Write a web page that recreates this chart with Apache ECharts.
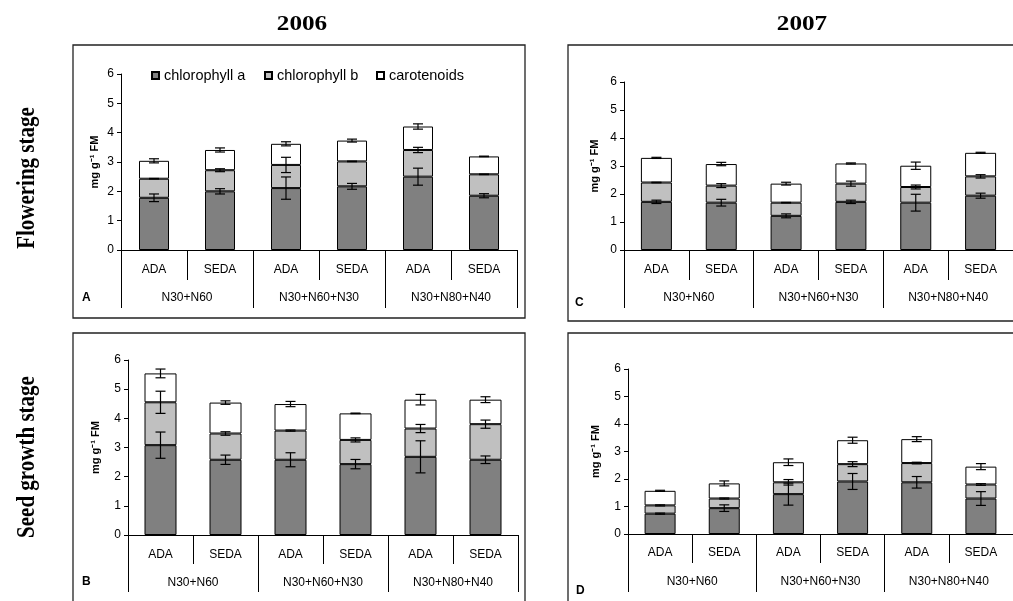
<!DOCTYPE html>
<html><head><meta charset="utf-8">
<script src="https://cdn.jsdelivr.net/npm/echarts@6/dist/echarts.min.js"></script>
<style>html,body{margin:0;padding:0;background:#fff}#c{width:1013px;height:601px}</style>
</head><body><div id="c"></div>
<script>
// ---- data ----
const categories = ['ADA', 'SEDA', 'ADA', 'SEDA', 'ADA', 'SEDA'];
const groups = ['N30+N60', 'N30+N60+N30', 'N30+N80+N40'];
const seriesNames = ['chlorophyll a', 'chlorophyll b', 'carotenoids'];
const yTicks = [0, 1, 2, 3, 4, 5, 6];

// A: 2006 flowering
const A_chlA = [1.78, 2.00, 2.11, 2.17, 2.50, 1.85];
const A_chlB = [0.65, 0.72, 0.79, 0.85, 0.91, 0.73];
const A_car  = [0.61, 0.69, 0.72, 0.71, 0.80, 0.61];
const A_errA = [0.13, 0.09, 0.38, 0.10, 0.29, 0.07];
const A_errB = [0.01, 0.05, 0.26, 0.01, 0.09, 0.01];
const A_errC = [0.07, 0.07, 0.07, 0.05, 0.09, 0.01];
// B: 2006 seed growth
const B_chlA = [3.08, 2.58, 2.58, 2.43, 2.68, 2.58];
const B_chlB = [1.47, 0.90, 1.00, 0.83, 0.97, 1.22];
const B_car  = [0.99, 1.06, 0.91, 0.91, 0.99, 0.84];
const B_errA = [0.45, 0.16, 0.24, 0.16, 0.55, 0.13];
const B_errB = [0.38, 0.06, 0.02, 0.07, 0.14, 0.14];
const B_errC = [0.15, 0.06, 0.09, 0.01, 0.18, 0.10];
// C: 2007 flowering
const C_chlA = [1.72, 1.69, 1.22, 1.72, 1.69, 1.94];
const C_chlB = [0.69, 0.61, 0.47, 0.65, 0.56, 0.69];
const C_car  = [0.88, 0.77, 0.68, 0.72, 0.76, 0.84];
const C_errA = [0.06, 0.12, 0.07, 0.06, 0.30, 0.09];
const C_errB = [0.01, 0.07, 0.01, 0.09, 0.07, 0.06];
const C_errC = [0.02, 0.06, 0.05, 0.02, 0.13, 0.02];
// D: 2007 seed growth
const D_chlA = [0.74, 0.94, 1.45, 1.91, 1.88, 1.29];
const D_chlB = [0.30, 0.35, 0.43, 0.63, 0.70, 0.51];
const D_car  = [0.53, 0.55, 0.73, 0.87, 0.87, 0.65];
const D_errA = [0.02, 0.12, 0.40, 0.29, 0.21, 0.25];
const D_errB = [0.02, 0.02, 0.10, 0.09, 0.03, 0.03];
const D_errC = [0.02, 0.09, 0.12, 0.11, 0.09, 0.11];

const panelData = [
  {segs: [A_chlA, A_chlB, A_car], errs: [A_errA, A_errB, A_errC]},
  {segs: [B_chlA, B_chlB, B_car], errs: [B_errA, B_errB, B_errC]},
  {segs: [C_chlA, C_chlB, C_car], errs: [C_errA, C_errB, C_errC]},
  {segs: [D_chlA, D_chlB, D_car], errs: [D_errA, D_errB, D_errC]}
];

// ---- layout / style ----
const FONT = 'Liberation Sans';
const SERIF = 'Liberation Serif';
const colors = ['#808080', '#c0c0c0', '#ffffff'];
const layout = [
  {left: 121, top: 74, width: 396, height: 176, barWidth: 30, nameGap: 21, m1: 14, t1: 30, m2: 42, t2: 58},
  {left: 128, top: 360, width: 390, height: 175, barWidth: 32, nameGap: 27, m1: 14, t1: 29, m2: 42, t2: 57},
  {left: 624, top: 82, width: 390, height: 168, barWidth: 31, nameGap: 24, m1: 14, t1: 30, m2: 42, t2: 58},
  {left: 628, top: 369, width: 387, height: 165, barWidth: 31, nameGap: 27, m1: 13, t1: 29, m2: 42, t2: 58}
];

const grid = [], xAxis = [], yAxis = [], series = [];
layout.forEach((L, g) => {
  grid.push({left: L.left, top: L.top, width: L.width, height: L.height, containLabel: false});
  xAxis.push({
    type: 'category', gridIndex: g, data: categories, position: 'bottom',
    axisLine: {show: true, lineStyle: {color: '#000', width: 1}},
    axisTick: {show: true, length: L.t1, lineStyle: {color: '#000', width: 1}},
    axisLabel: {interval: 0, margin: L.m1, color: '#000', fontFamily: FONT, fontSize: 12},
    splitLine: {show: false}
  });
  xAxis.push({
    type: 'category', gridIndex: g, data: groups, position: 'bottom',
    axisLine: {show: false},
    axisTick: {show: true, length: L.t2, lineStyle: {color: '#000', width: 1}},
    axisLabel: {interval: 0, margin: L.m2, color: '#000', fontFamily: FONT, fontSize: 12},
    splitLine: {show: false}
  });
  yAxis.push({
    type: 'value', gridIndex: g, min: yTicks[0], max: yTicks[yTicks.length - 1], interval: 1,
    name: 'mg g\u207B\u00B9 FM', nameLocation: 'middle', nameGap: L.nameGap, nameRotate: 90,
    nameTextStyle: {fontFamily: FONT, fontSize: 11, fontWeight: 'bold', color: '#000'},
    axisLine: {show: true, lineStyle: {color: '#000', width: 1}},
    axisTick: {show: true, length: 4, lineStyle: {color: '#000'}},
    axisLabel: {margin: 7, color: '#000', fontFamily: FONT, fontSize: 12},
    splitLine: {show: false}
  });
  const P = panelData[g];
  const cum = categories.map(() => 0);
  P.segs.forEach((vals, s) => {
    series.push({
      type: 'bar', name: seriesNames[s], xAxisIndex: g * 2, yAxisIndex: g, stack: 'st' + g,
      data: vals, barWidth: L.barWidth,
      itemStyle: {color: colors[s], borderColor: '#000', borderWidth: 1},
      emphasis: {disabled: true}, animation: false
    });
    const errData = vals.map((v, i) => { cum[i] += v; return [i, +cum[i].toFixed(3), P.errs[s][i]]; });
    series.push({
      type: 'custom', name: 'err' + s, xAxisIndex: g * 2, yAxisIndex: g, data: errData, z: 10,
      animation: false, silent: true,
      renderItem: function (params, api) {
        const x = api.value(0), y = api.value(1), e = api.value(2);
        const hi = api.coord([x, y + e]), lo = api.coord([x, y - e]);
        const w = 5;
        const st = {stroke: '#000', lineWidth: 1.2};
        return {type: 'group', children: [
          {type: 'line', shape: {x1: hi[0], y1: hi[1], x2: lo[0], y2: lo[1]}, style: st},
          {type: 'line', shape: {x1: hi[0] - w, y1: hi[1], x2: hi[0] + w, y2: hi[1]}, style: st},
          {type: 'line', shape: {x1: lo[0] - w, y1: lo[1], x2: lo[0] + w, y2: lo[1]}, style: st}
        ]};
      }
    });
  });
});

const legendLefts = [151, 264, 376];
const legend = seriesNames.map((n, i) => ({
  data: [n], left: legendLefts[i], top: 68, padding: 0, itemWidth: 7, itemHeight: 7,
  icon: 'rect', selectedMode: false,
  textStyle: {fontFamily: FONT, fontSize: 14.5, color: '#000'}
}));

const frame = {stroke: '#222', fill: 'none', lineWidth: 1.3};
const letterStyle = {fontFamily: FONT, fontSize: 12, fontWeight: 'bold', fill: '#000'};
const bigStyle = {fontFamily: SERIF, fontSize: 21, fontWeight: 'bold', fill: '#000', align: 'center', verticalAlign: 'middle'};

const option = {
  backgroundColor: '#fff',
  animation: false,
  grid, xAxis, yAxis, series, legend,
  graphic: [
    {type: 'rect', shape: {x: 73, y: 45, width: 452, height: 273}, style: frame, silent: true},
    {type: 'rect', shape: {x: 568, y: 45, width: 460, height: 276}, style: frame, silent: true},
    {type: 'rect', shape: {x: 73, y: 333, width: 452, height: 290}, style: frame, silent: true},
    {type: 'rect', shape: {x: 568, y: 333, width: 460, height: 290}, style: frame, silent: true},
    {type: 'text', left: 82, top: 292, style: Object.assign({text: 'A'}, letterStyle)},
    {type: 'text', left: 575, top: 297, style: Object.assign({text: 'C'}, letterStyle)},
    {type: 'text', left: 82, top: 576, style: Object.assign({text: 'B'}, letterStyle)},
    {type: 'text', left: 576, top: 585, style: Object.assign({text: 'D'}, letterStyle)},
    {type: 'text', x: 302, y: 25, scaleX: 1.2, style: Object.assign({text: '2006'}, bigStyle)},
    {type: 'text', x: 802, y: 25, scaleX: 1.2, style: Object.assign({text: '2007'}, bigStyle)},
    {type: 'text', x: 28, y: 178, rotation: Math.PI / 2, scaleY: 1.15, style: Object.assign({text: 'Flowering stage'}, bigStyle)},
    {type: 'text', x: 28, y: 457, rotation: Math.PI / 2, scaleY: 1.15, style: Object.assign({text: 'Seed growth stage'}, bigStyle)}
  ]
};
const chart = echarts.init(document.getElementById('c'), null, {renderer: 'canvas'});
chart.setOption(option);
</script></body></html>
